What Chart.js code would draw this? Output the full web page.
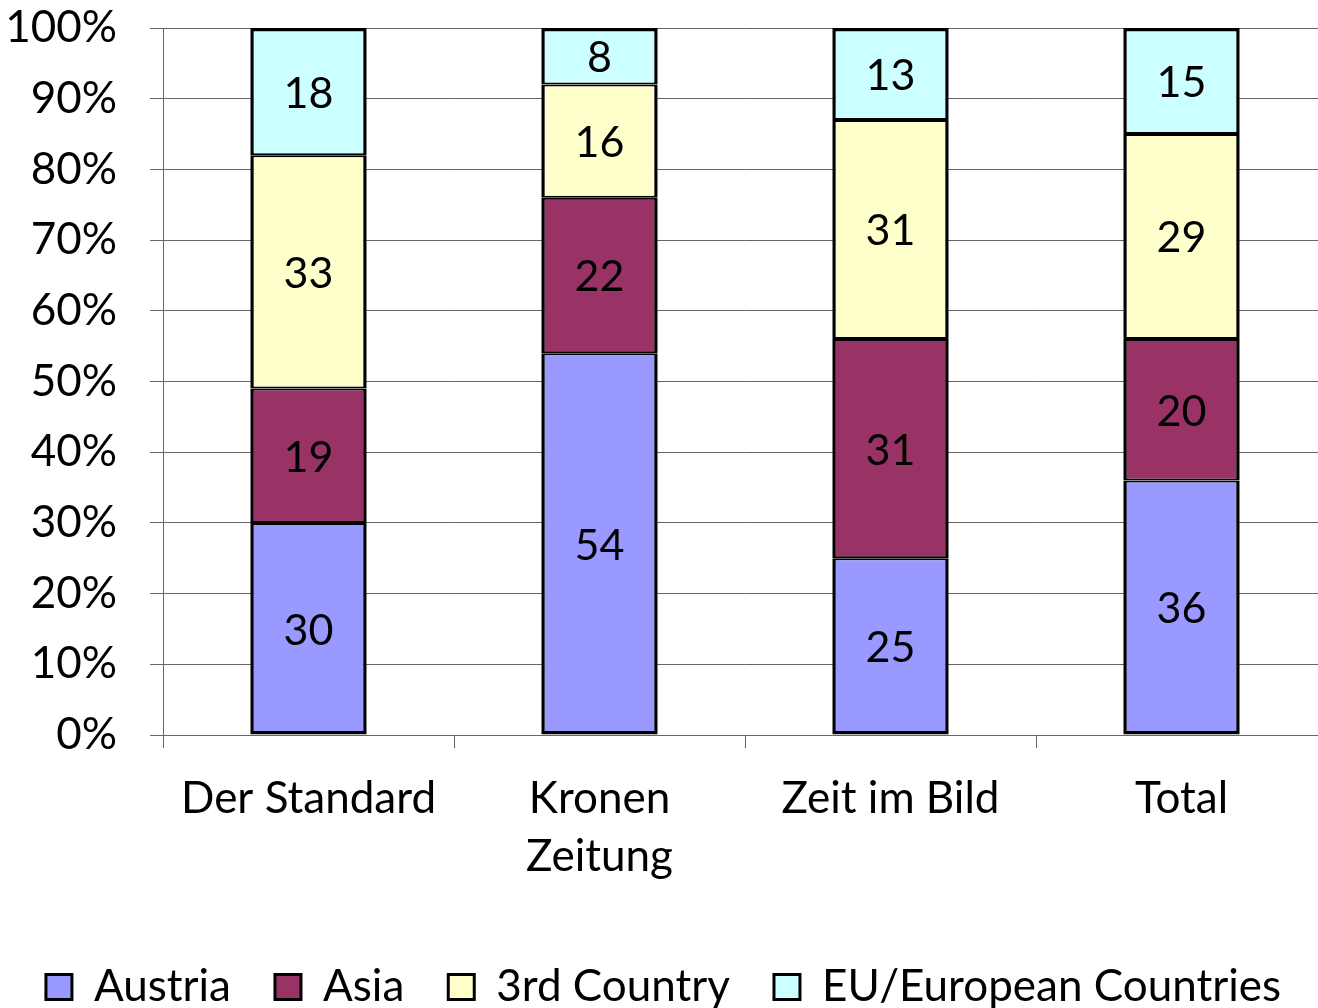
<!DOCTYPE html>
<html>
<head>
<meta charset="utf-8">
<script src="https://cdn.jsdelivr.net/npm/chart.js@4"></script>
<style>
  html, body { margin: 0; padding: 0; background: #fff; overflow: hidden; }
  #wrap { position: relative; width: 1327px; height: 1019px; }
</style>
</head>
<body>
<div id="wrap"><canvas id="c"></canvas></div>
<script>
const categories = [['Der Standard'], ['Kronen', 'Zeitung'], ['Zeit im Bild'], ['Total']];
const seriesNames = ['Austria', 'Asia', '3rd Country', 'EU/European Countries'];
const austria = [30, 54, 25, 36];
const asia = [19, 22, 31, 20];
const thirdCountry = [33, 16, 31, 29];
const euEuropean = [18, 8, 13, 15];
const seriesColors = ['#9999FF', '#993366', '#FFFFCC', '#CCFFFF'];
const yTickSuffix = '%';

const FONT = 'Lato';

const valueLabels = {
  id: 'valueLabels',
  afterDatasetsDraw(chart) {
    const ctx = chart.ctx;
    ctx.save();
    ctx.font = '43px ' + FONT;
    ctx.fillStyle = '#000';
    ctx.textAlign = 'center';
    ctx.textBaseline = 'middle';
    chart.data.datasets.forEach((ds, i) => {
      const meta = chart.getDatasetMeta(i);
      meta.data.forEach((el, j) => {
        const p = el.getProps(['x', 'y', 'base'], true);
        ctx.fillText(String(ds.data[j]), p.x, (p.y + p.base) / 2 + 2);
      });
    });
    ctx.restore();
  }
};

function borderFor(i, n) {
  return {
    left: 3.5, right: 3.5,
    top: i === n - 1 ? 3.5 : 2,
    bottom: i === 0 ? 3.5 : 2
  };
}

function build() {
  const seriesData = [austria, asia, thirdCountry, euEuropean];
  const datasets = seriesData.map((d, i) => ({
    label: seriesNames[i],
    data: d,
    backgroundColor: seriesColors[i],
    borderColor: '#000',
    borderWidth: borderFor(i, seriesData.length),
    borderSkipped: false,
    barPercentage: 0.8,
    categoryPercentage: 0.5
  }));

  new Chart(document.getElementById('c'), {
    type: 'bar',
    data: { labels: categories, datasets },
    plugins: [valueLabels],
    options: {
      responsive: true,
      maintainAspectRatio: false,
      animation: false,
      layout: { padding: { top: 28, left: 0, right: 0, bottom: 0 } },
      plugins: {
        tooltip: { enabled: false },
        legend: {
          position: 'bottom',
          labels: {
            font: { family: FONT, size: 44 },
            color: '#000',
            boxWidth: 26,
            boxHeight: 25,
            padding: 44,
            generateLabels(chart) {
              return chart.data.datasets.map((ds, i) => ({
                text: ds.label,
                fillStyle: ds.backgroundColor,
                strokeStyle: '#000',
                lineWidth: 3,
                hidden: false,
                datasetIndex: i,
                fontColor: '#000'
              }));
            }
          }
        }
      },
      scales: {
        x: {
          stacked: true,
          afterFit(scale) { scale.height = 186; },
          grid: {
            offset: true,
            drawOnChartArea: false,
            drawTicks: true,
            tickLength: 13,
            color: '#666',
            lineWidth: 1
          },
          border: { display: true, color: '#666', width: 1 },
          ticks: {
            font: { family: FONT, size: 44, lineHeight: 1.32 },
            color: '#000',
            padding: 22,
            maxRotation: 0,
            autoSkip: false
          }
        },
        y: {
          stacked: true,
          min: 0,
          max: 100,
          afterFit(scale) {
            scale.width = 163;
            scale.paddingTop = 0;
            scale.paddingBottom = 0;
          },
          grid: {
            color: '#666',
            lineWidth: 1,
            drawTicks: true,
            tickLength: 13
          },
          border: { display: true, color: '#666', width: 1 },
          ticks: {
            stepSize: 10,
            font: { family: FONT, size: 44 },
            color: '#000',
            padding: 33,
            callback: (v) => v + yTickSuffix
          }
        }
      }
    }
  });
}

if (document.fonts && document.fonts.load) {
  document.fonts.load('44px ' + FONT).then(build, build);
} else {
  build();
}
</script>
</body>
</html>
